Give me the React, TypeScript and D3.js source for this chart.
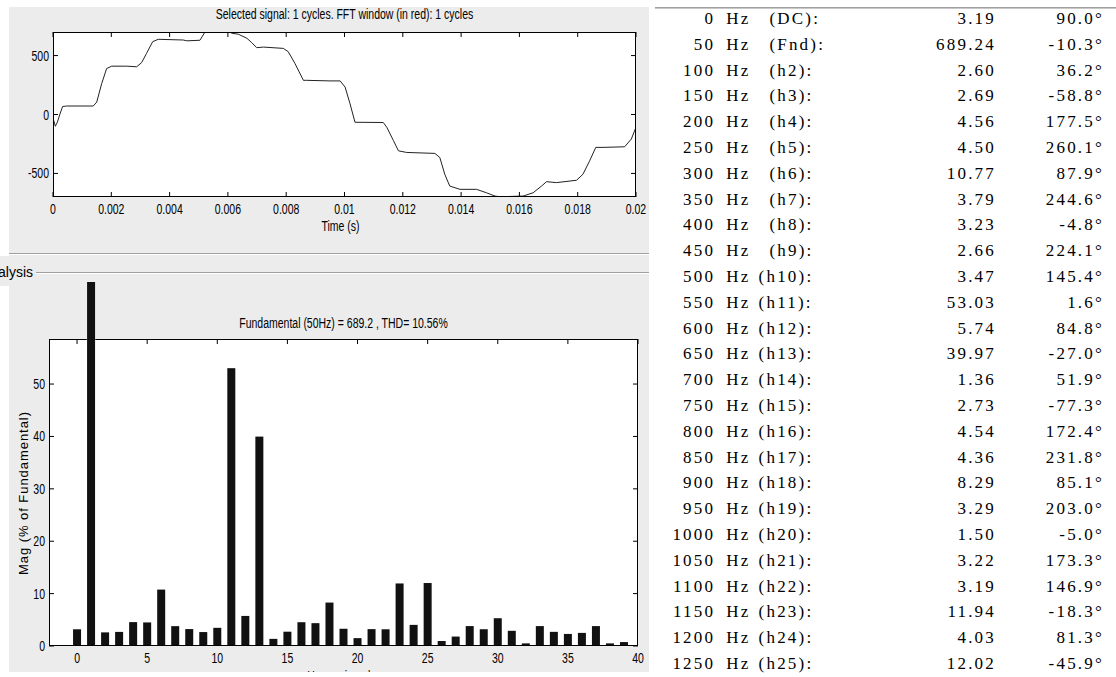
import React from "react";
import * as d3 from "d3";

// ---------- data ----------
// Selected signal (time in ms, value)
const signalTimeMs = [0, 0.08, 0.15, 0.24, 0.33, 0.47, 1.38, 1.5, 1.67, 1.84, 2.01, 2.53, 2.87, 3.04, 3.21, 3.42, 3.61, 4.47, 4.59, 5.04, 5.21, 5.35, 5.9, 6.13, 6.36, 6.65, 6.82, 6.99, 7.22, 7.9, 8.07, 8.3, 8.59, 8.7, 9.5, 9.85, 10.02, 10.19, 10.36, 11.33, 11.45, 11.68, 11.85, 12.13, 13.1, 13.27, 13.44, 13.61, 13.96, 14.53, 14.87, 15.16, 15.33, 16.13, 16.47, 16.76, 16.93, 17.27, 17.96, 18.18, 18.41, 18.62, 18.87, 19.61, 19.84, 20.0];
const signalValue = [-30, -100, -65, 5, 68, 72, 72, 105, 262, 390, 410, 410, 405, 440, 519, 618, 638, 632, 625, 630, 698, 720, 720, 690, 681, 647, 609, 567, 572, 561, 533, 433, 290, 290, 285, 285, 233, 91, -66, -68, -108, -222, -308, -322, -330, -365, -507, -607, -635, -635, -664, -692, -698, -692, -664, -607, -570, -578, -558, -507, -393, -279, -279, -274, -208, -108];

const timeTicks = [0, 0.002, 0.004, 0.006, 0.008, 0.01, 0.012, 0.014, 0.016, 0.018, 0.02];
const signalTicks = [-500, 0, 500];

// Harmonic spectrum (bar values)
const harmonicOrder = [0, 1, 2, 3, 4, 5, 6, 7, 8, 9, 10, 11, 12, 13, 14, 15, 16, 17, 18, 19, 20, 21, 22, 23, 24, 25, 26, 27, 28, 29, 30, 31, 32, 33, 34, 35, 36, 37, 38, 39];
const harmonicMag = [3.19, 689.24, 2.6, 2.69, 4.56, 4.5, 10.77, 3.79, 3.23, 2.66, 3.47, 53.03, 5.74, 39.97, 1.36, 2.73, 4.54, 4.36, 8.29, 3.29, 1.5, 3.22, 3.19, 11.94, 4.03, 12.02, 0.95, 1.8, 3.8, 3.2, 5.3, 2.9, 0.5, 3.8, 2.7, 2.3, 2.5, 3.8, 0.5, 0.75];
const magTicks = [0, 10, 20, 30, 40, 50];
const orderTicks = [0, 5, 10, 15, 20, 25, 30, 35, 40];

// Table
const tableFreq = [0, 50, 100, 150, 200, 250, 300, 350, 400, 450, 500, 550, 600, 650, 700, 750, 800, 850, 900, 950, 1000, 1050, 1100, 1150, 1200, 1250];
const tableLabel = ["DC", "Fnd", "h2", "h3", "h4", "h5", "h6", "h7", "h8", "h9", "h10", "h11", "h12", "h13", "h14", "h15", "h16", "h17", "h18", "h19", "h20", "h21", "h22", "h23", "h24", "h25"];
const tableMag = ["3.19", "689.24", "2.60", "2.69", "4.56", "4.50", "10.77", "3.79", "3.23", "2.66", "3.47", "53.03", "5.74", "39.97", "1.36", "2.73", "4.54", "4.36", "8.29", "3.29", "1.50", "3.22", "3.19", "11.94", "4.03", "12.02"];
const tablePhase = ["90.0°", "-10.3°", "36.2°", "-58.8°", "177.5°", "260.1°", "87.9°", "244.6°", "-4.8°", "224.1°", "145.4°", "1.6°", "84.8°", "-27.0°", "51.9°", "-77.3°", "172.4°", "231.8°", "85.1°", "203.0°", "-5.0°", "173.3°", "146.9°", "-18.3°", "81.3°", "-45.9°"];

const topTitle = "Selected signal: 1 cycles. FFT window (in red): 1 cycles";
const bottomTitle = "Fundamental (50Hz) = 689.2 , THD= 10.56%";

// ---------- style ----------
const W = 1116;
const H = 677;
const SANS = "'Liberation Sans', Arial, sans-serif";
const SERIF = "'Liberation Serif', 'Times New Roman', serif";
const PANEL = "#ececec";
const ETCH = "#a0a0a0";

function Lbl(props: { x: number; y: number; anchor?: string; size?: number; sx?: number; children: React.ReactNode }) {
  const { x, y, anchor = "middle", size = 12.5, sx = 0.84, children } = props;
  return (
    <text
      transform={`translate(${x},${y}) scale(${sx},1.12)`}
      textAnchor={anchor as any}
      fontFamily={SANS}
      fontSize={size}
      fill="#000"
    >
      {children}
    </text>
  );
}

// monospace-like cell text drawn with a serif face
const CELL = 10.8;
const TABLE_X = 671;
const TFONT = 17;
const LSP = 2.2;
function Cell(props: { col: number; y: number; align: "start" | "end"; children: string }) {
  const { col, y, align, children } = props;
  const x = align === "start" ? TABLE_X + col * CELL + 1.2 : TABLE_X + col * CELL - 1.2 + LSP;
  return (
    <text
      x={x}
      y={y}
      textAnchor={align}
      fontFamily={SERIF}
      fontSize={TFONT}
      letterSpacing={LSP}
      fill="#000"
    >
      {children}
    </text>
  );
}

export default function App() {
  // top chart
  const tx = d3.scaleLinear().domain([0, 0.02]).range([53, 636]);
  const ty = d3.scaleLinear().domain([-700, 700]).range([197, 32]);
  const line = d3
    .line<number>()
    .x((_, i) => tx(signalTimeMs[i] / 1000))
    .y((v) => ty(v));
  const sigPath = line(signalValue) || "";

  // bottom chart
  const bx = d3.scaleLinear().domain([-2, 40]).range([49, 638]);
  const by = d3.scaleLinear().domain([0, 58.6]).range([646, 339]);
  const barW = bx(0.57) - bx(0);

  const tickLen = 5;
  const [tx0, tx1] = tx.range();
  const [ty0, ty1] = ty.range();
  const [bx0, bx1] = bx.range();
  const [by0, by1] = by.range();

  const rowY0 = 18;
  const rowStep = 25.8;

  const fmtTime = (v: number) => String(+v.toFixed(3));

  return (
    <svg width={W} height={H} style={{ position: "absolute", left: 0, top: 0, background: "#fff" }}>
      <defs>
        <clipPath id="panelClip">
          <rect x={9} y={7} width={640} height={665} />
        </clipPath>
        <clipPath id="topPlot">
          <rect x={tx0} y={ty1} width={tx1 - tx0} height={ty0 - ty1} />
        </clipPath>
        <clipPath id="barClip">
          <rect x={9} y={282} width={640} height={390} />
        </clipPath>
      </defs>

      {/* left panel background */}
      <rect x={9} y={7} width={640} height={665} fill={PANEL} />
      <rect x={0} y={256} width={9} height={30} fill={PANEL} />

      <Lbl x={33} y={277} anchor="end" sx={1.12}>FFT Analysis</Lbl>

      <g clipPath="url(#panelClip)">
        {/* ----- top chart ----- */}
        <Lbl x={(tx0 + tx1) / 2} y={19}>{topTitle}</Lbl>
        <rect x={tx0} y={ty1} width={tx1 - tx0} height={ty0 - ty1} fill="#fff" />
        <path d={sigPath} fill="none" stroke="#222" strokeWidth={1} clipPath="url(#topPlot)" />
        <rect x={tx0 + 0.5} y={ty1 + 0.5} width={tx1 - tx0 - 1} height={ty0 - ty1 - 1} fill="none" stroke="#000" strokeWidth={1} />
        {timeTicks.map((t) => (
          <g key={"tt" + t}>
            <line x1={tx(t)} x2={tx(t)} y1={ty0} y2={ty0 - tickLen} stroke="#000" />
            <line x1={tx(t)} x2={tx(t)} y1={ty1} y2={ty1 + tickLen} stroke="#000" />
            <Lbl x={tx(t)} y={214}>{fmtTime(t)}</Lbl>
          </g>
        ))}
        {signalTicks.map((v) => (
          <g key={"sy" + v}>
            <line x1={tx0} x2={tx0 + tickLen} y1={ty(v)} y2={ty(v)} stroke="#000" />
            <line x1={tx1} x2={tx1 - tickLen} y1={ty(v)} y2={ty(v)} stroke="#000" />
            <Lbl x={tx0 - 4} y={ty(v) + 5} anchor="end">{String(v)}</Lbl>
          </g>
        ))}
        <Lbl x={(tx0 + tx1) / 2 - 4} y={231}>Time (s)</Lbl>

        {/* separators */}
        <line x1={9} x2={649} y1={253.5} y2={253.5} stroke={ETCH} />
        <line x1={9} x2={649} y1={254.5} y2={254.5} stroke="#fff" />
        <line x1={36} x2={649} y1={272.5} y2={272.5} stroke={ETCH} />
        <line x1={36} x2={649} y1={273.5} y2={273.5} stroke="#fff" />

        {/* ----- bottom chart ----- */}
        <Lbl x={(bx0 + bx1) / 2} y={328}>{bottomTitle}</Lbl>
        <rect x={bx0} y={by1} width={bx1 - bx0} height={by0 - by1} fill="#fff" />
        <g clipPath="url(#barClip)">
          {harmonicOrder.map((h, i) => (
            <rect
              key={"b" + h}
              x={bx(h) - barW / 2}
              y={by(harmonicMag[i])}
              width={barW}
              height={by0 - by(harmonicMag[i])}
              fill="#111"
            />
          ))}
        </g>
        <line x1={bx0 + 0.5} x2={bx0 + 0.5} y1={by1} y2={by0} stroke="#000" />
        <line x1={bx1 - 0.5} x2={bx1 - 0.5} y1={by1} y2={by0} stroke="#000" />
        <line x1={bx0} x2={bx1} y1={by0 - 0.5} y2={by0 - 0.5} stroke="#000" />
        <line x1={bx0} x2={bx(0.7)} y1={by1 + 0.5} y2={by1 + 0.5} stroke="#000" />
        <line x1={bx(1.3)} x2={bx1} y1={by1 + 0.5} y2={by1 + 0.5} stroke="#000" />
        {orderTicks.map((o) => (
          <g key={"ox" + o}>
            <line x1={bx(o)} x2={bx(o)} y1={by1} y2={by1 + tickLen} stroke="#000" />
            <Lbl x={bx(o)} y={663}>{String(o)}</Lbl>
          </g>
        ))}
        {magTicks.map((m) => (
          <g key={"my" + m}>
            <line x1={bx0} x2={bx0 + tickLen} y1={by(m)} y2={by(m)} stroke="#000" />
            <line x1={bx1} x2={bx1 - tickLen} y1={by(m)} y2={by(m)} stroke="#000" />
            <Lbl x={bx0 - 4} y={by(m) + 5} anchor="end">{String(m)}</Lbl>
          </g>
        ))}
        <text
          transform={`translate(28,${(412 + 575) / 2}) rotate(-90)`}
          textAnchor="middle"
          fontFamily={SANS}
          fontSize={13}
          textLength={163}
          lengthAdjust="spacing"
          fill="#000"
        >
          Mag (% of Fundamental)
        </text>
        <Lbl x={(bx0 + bx1) / 2} y={681}>Harmonic order</Lbl>
      </g>

      {/* ----- table ----- */}
      <line x1={655} x2={W} y1={7.5} y2={7.5} stroke={ETCH} />
      <line x1={655} x2={W} y1={8.5} y2={8.5} stroke="#c8c8c8" />
      {tableFreq.map((f, i) => {
        const y = rowY0 + rowStep * i + 6;
        const lab = tableLabel[i];
        const twoDigit = lab.length >= 3 && lab.startsWith("h");
        return (
          <g key={"r" + f}>
            <Cell col={4} y={y} align="end">{String(f)}</Cell>
            <Cell col={5} y={y} align="start">Hz</Cell>
            <Cell col={twoDigit ? 8 : 9} y={y} align="start">{"(" + lab + "):"}</Cell>
            <Cell col={30} y={y} align="end">{tableMag[i]}</Cell>
            <Cell col={40} y={y} align="end">{tablePhase[i]}</Cell>
          </g>
        );
      })}
    </svg>
  );
}
